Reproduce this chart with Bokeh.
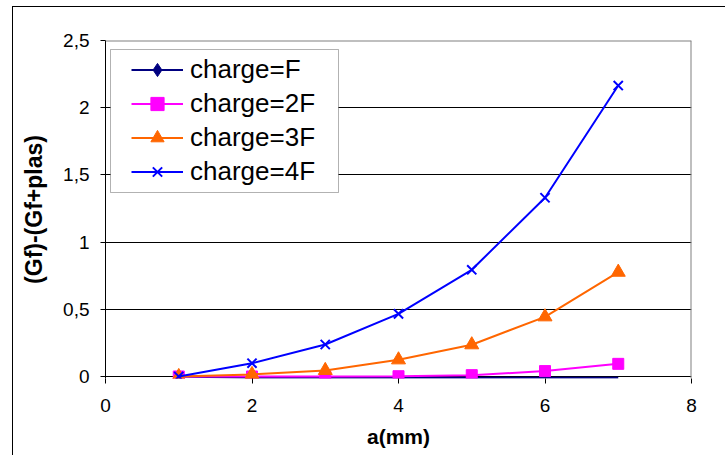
from bokeh.plotting import figure
from bokeh.models import (Range1d, FixedTicker, CustomJSTickFormatter, Span, Legend,
                          LegendItem, BoxAnnotation, ColumnDataSource, CDSView, IndexFilter)
from bokeh.embed import file_html
from bokeh.resources import INLINE

# ---- data ----
a_mm = [1, 2, 3, 4, 5, 6, 7]
charge_F = [0.0, -0.01, -0.01, -0.01, -0.01, -0.01, -0.01]
charge_2F = [0.0, 0.0, 0.0, 0.002, 0.01, 0.04, 0.094]
charge_3F = [0.0, 0.015, 0.045, 0.124, 0.236, 0.444, 0.776]
charge_4F = [0.0, 0.099, 0.238, 0.466, 0.794, 1.33, 2.165]
series_names = ["charge=F", "charge=2F", "charge=3F", "charge=4F"]
x_ticks = [0, 2, 4, 6, 8]
y_ticks = [0, 0.5, 1, 1.5, 2, 2.5]
y_grid = [0, 0.5, 1, 1.5, 2]

FONT = "Liberation Sans"

p = figure(width=725, height=455, x_range=Range1d(0, 8), y_range=Range1d(-0.015, 2.5),
           output_backend="svg", toolbar_location=None,
           min_border_left=105, min_border_right=34, min_border_top=40, min_border_bottom=77)
p.outline_line_color = None
p.background_fill_color = "white"
p.border_fill_color = None
# chart-area border (left and top edges; the rest lies outside the window)
p.styles = {"background": "linear-gradient(#000,#000) 12px 6px / 1px calc(100% - 6px) no-repeat, "
                          "linear-gradient(#000,#000) 12px 6px / calc(100% - 12px) 1px no-repeat, #fff"}

# axes
p.xaxis.ticker = FixedTicker(ticks=x_ticks)
p.xaxis.axis_line_color = None
p.xaxis.major_tick_out = 5
p.xaxis.major_tick_in = 0
p.xaxis.minor_tick_out = 0
p.xaxis.minor_tick_in = 0
p.xaxis.major_tick_line_color = "black"
p.xaxis.major_label_standoff = 15
p.xaxis.axis_label = "a(mm)"
p.xaxis.axis_label_standoff = 10

p.yaxis.ticker = FixedTicker(ticks=y_ticks)
p.yaxis.formatter = CustomJSTickFormatter(code="return tick.toString().replace('.', ',');")
p.yaxis.axis_line_color = "black"
p.yaxis.major_tick_out = 5
p.yaxis.major_tick_in = 0
p.yaxis.minor_tick_out = 0
p.yaxis.minor_tick_in = 0
p.yaxis.major_tick_line_color = "black"
p.yaxis.major_label_standoff = 11
p.yaxis.axis_label = "(Gf)-(Gf+plas)"
p.yaxis.axis_label_standoff = 13

for ax in (p.xaxis, p.yaxis):
    ax.major_label_text_font = FONT
    ax.major_label_text_font_size = "19px"
    ax.major_label_text_color = "black"
    ax.axis_label_text_font = FONT
    ax.axis_label_text_font_style = "bold"
    ax.axis_label_text_color = "black"
p.xaxis.axis_label_text_font_size = "21px"
p.yaxis.axis_label_text_font_size = "23px"

p.xgrid.visible = False
p.ygrid.ticker = FixedTicker(ticks=y_grid)
p.ygrid.grid_line_color = "black"
p.ygrid.grid_line_width = 1

# plot area top/right border (gray)
p.add_layout(Span(location=2.5, dimension="width", line_color="#808080", line_width=2))
p.add_layout(Span(location=8, dimension="height", line_color="#808080", line_width=2))

# series
colors = ["#000080", "#FF00FF", "#FF6600", "#0000FF"]
l1 = p.line(a_mm, charge_F, line_color=colors[0], line_width=2)
# the F series' markers are hidden in the chart (only the first, covered one is drawn)
s1 = p.scatter(x="x", y="y", source=ColumnDataSource(data=dict(x=a_mm, y=charge_F)),
               view=CDSView(filter=IndexFilter(indices=[0])),
               marker="diamond", size=11, fill_color=colors[0], line_color=colors[0])
l2 = p.line(a_mm, charge_2F, line_color=colors[1], line_width=2)
s2 = p.scatter(a_mm, charge_2F, marker="square", size=11, fill_color=colors[1], line_color=colors[1])
l3 = p.line(a_mm, charge_3F, line_color=colors[2], line_width=2)
s3 = p.scatter(a_mm, charge_3F, marker="triangle", size=14, fill_color=colors[2], line_color=colors[2])
l4 = p.line(a_mm, charge_4F, line_color=colors[3], line_width=2)
s4 = p.scatter(a_mm, charge_4F, marker="x", size=13, line_color=colors[3], line_width=2)

# legend box
p.add_layout(BoxAnnotation(left=110, right=338, top=49, bottom=192,
                           left_units="canvas", right_units="canvas",
                           top_units="canvas", bottom_units="canvas",
                           fill_color="white", fill_alpha=1.0,
                           line_color="black", line_width=1))

legend = Legend(items=[
    LegendItem(label=series_names[0], renderers=[l1, s1]),
    LegendItem(label=series_names[1], renderers=[l2, s2]),
    LegendItem(label=series_names[2], renderers=[l3, s3]),
    LegendItem(label=series_names[3], renderers=[l4, s4]),
], location=(26, 190))
legend.padding = 0
legend.margin = 0
legend.spacing = 0
legend.border_line_color = None
legend.background_fill_alpha = 0
legend.label_height = 34
legend.glyph_height = 33
legend.glyph_width = 52
legend.label_standoff = 7
legend.label_text_font = FONT
legend.label_text_font_size = "26px"
legend.label_text_color = "black"
p.add_layout(legend, "center")

open("out.html", "w").write(file_html(p, INLINE))
